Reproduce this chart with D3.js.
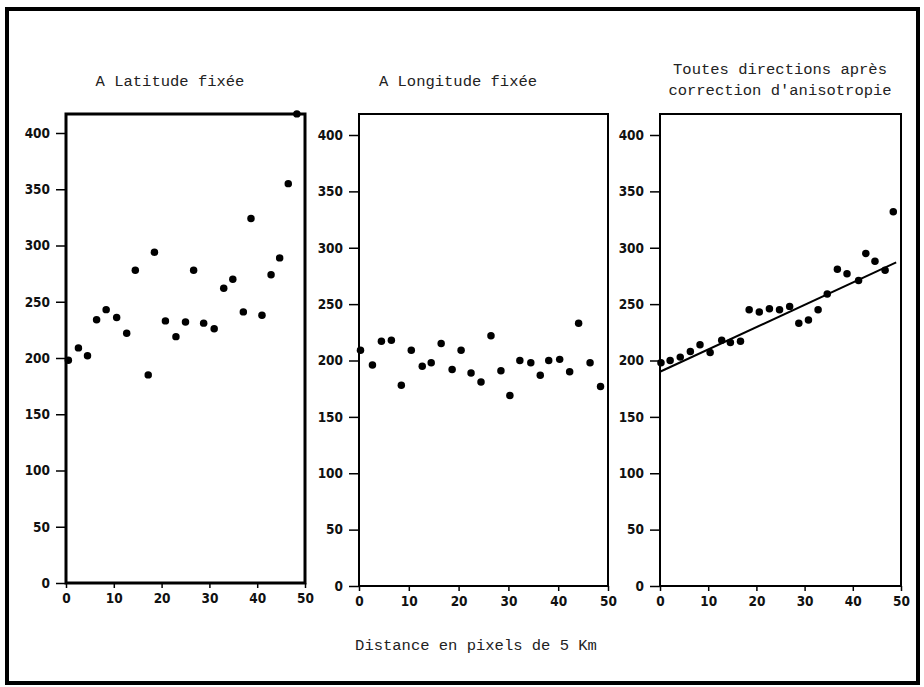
<!DOCTYPE html>
<html>
<head>
<meta charset="utf-8">
<script src="https://cdn.jsdelivr.net/npm/d3@7"></script>
<style>
  html, body { margin: 0; padding: 0; background: #fff; }
  svg { display: block; }
  .title, .xlabel { font-family: "Liberation Mono", "DejaVu Sans Mono", monospace; font-size: 15.5px; fill: #222; }
  .tick text { font-family: "DejaVu Sans Condensed", "DejaVu Sans", sans-serif; font-stretch: condensed; font-size: 13.5px; font-weight: bold; fill: #111; }
</style>
</head>
<body>
<svg id="chart" width="924" height="687"></svg>
<script>
// ---- Data ----
const xTicks = [0, 10, 20, 30, 40, 50];
const yTicks = [0, 50, 100, 150, 200, 250, 300, 350, 400];

const titleLat = ["A Latitude fixée"];
const titleLon = ["A Longitude fixée"];
const titleAll = ["Toutes directions après", "correction d'anisotropie"];
const xAxisTitle = "Distance en pixels de 5 Km";

// Panel 1 : A Latitude fixée
const latX = [0.5, 2.6, 4.5, 6.4, 8.4, 10.6, 12.7, 14.5, 17.2, 18.5, 20.8, 23.0, 25.0, 26.7, 28.8, 31.0, 33.0, 34.9, 37.1, 38.7, 41.0, 42.9, 44.7, 46.5, 48.3];
const latY = [198, 209, 202, 234, 243, 236, 222, 278, 185, 294, 233, 219, 232, 278, 231, 226, 262, 270, 241, 324, 238, 274, 289, 355, 417];

// Panel 2 : A Longitude fixée
const lonX = [0.3, 2.7, 4.5, 6.5, 8.5, 10.5, 12.7, 14.5, 16.5, 18.7, 20.5, 22.5, 24.5, 26.5, 28.5, 30.3, 32.3, 34.5, 36.4, 38.1, 40.3, 42.3, 44.1, 46.4, 48.5];
const lonY = [209, 196, 217, 218, 178, 209, 195, 198, 215, 192, 209, 189, 181, 222, 191, 169, 200, 198, 187, 200, 201, 190, 233, 198, 177];

// Panel 3 : Toutes directions après correction d'anisotropie
const allX = [0.2, 2.1, 4.2, 6.3, 8.3, 10.4, 12.8, 14.6, 16.7, 18.5, 20.6, 22.7, 24.8, 26.9, 28.8, 30.8, 32.8, 34.7, 36.8, 38.8, 41.2, 42.7, 44.6, 46.7, 48.4];
const allY = [198, 200, 203, 208, 214, 207, 218, 216, 217, 245, 243, 246, 245, 248, 233, 236, 245, 259, 281, 277, 271, 295, 288, 280, 332];

// Regression line in panel 3
const fitX = [0, 49];
const fitY = [190, 287];

// ---- Layout ----
const svg = d3.select("#chart");

// outer frame
svg.append("rect")
  .attr("x", 7).attr("y", 9).attr("width", 911).attr("height", 674)
  .attr("fill", "none").attr("stroke", "#000").attr("stroke-width", 4);

const panels = [
  { title: titleLat, xs: latX, ys: latY, left: 66, right: 305, bottom: 583, top400: 133, frameTop: 114, sw: 3, titleX: 170, titleY: [86] },
  { title: titleLon, xs: lonX, ys: lonY, left: 359, right: 608, bottom: 586, top400: 135, frameTop: 114, sw: 2, titleX: 458, titleY: [86] },
  { title: titleAll, xs: allX, ys: allY, left: 660, right: 901, bottom: 586, top400: 135, frameTop: 114, sw: 2, titleX: 780, titleY: [74, 95], fit: true }
];

panels.forEach(p => {
  const x = d3.scaleLinear().domain([0, 50]).range([p.left, p.right]);
  const y = d3.scaleLinear().domain([0, 400]).range([p.bottom, p.top400]);
  const g = svg.append("g");

  // frame
  g.append("rect")
    .attr("x", x(0)).attr("y", p.frameTop)
    .attr("width", x(50) - x(0)).attr("height", y(0) - p.frameTop)
    .attr("fill", "none").attr("stroke", "#000").attr("stroke-width", p.sw);

  // y axis
  const ya = g.append("g").attr("transform", `translate(${x(0)},0)`)
    .call(d3.axisLeft(y).tickValues(yTicks).tickSize(10).tickPadding(6).tickFormat(d3.format("d")));
  ya.select(".domain").remove();
  ya.selectAll(".tick line").attr("stroke", "#000").attr("stroke-width", 1.5);

  // x axis
  const xa = g.append("g").attr("transform", `translate(0,${y(0)})`)
    .call(d3.axisBottom(x).tickValues(xTicks).tickSize(5).tickPadding(5).tickFormat(d3.format("d")));
  xa.select(".domain").remove();
  xa.selectAll(".tick line").attr("stroke", "#000").attr("stroke-width", 1.5);

  // title
  p.title.forEach((t, i) => {
    g.append("text").attr("class", "title")
      .attr("x", p.titleX).attr("y", p.titleY[i])
      .attr("text-anchor", "middle").text(t);
  });

  // regression line
  if (p.fit) {
    const line = d3.line().x((d, i) => x(fitX[i])).y((d, i) => y(fitY[i]));
    g.append("path").datum(fitX).attr("d", line)
      .attr("fill", "none").attr("stroke", "#000").attr("stroke-width", 2);
  }

  // points
  g.selectAll("path.pt").data(p.xs.map((v, i) => [v, p.ys[i]]))
    .join("path").attr("class", "pt")
    .attr("transform", d => `translate(${x(d[0])},${y(d[1])})`)
    .attr("d", d3.symbol().type(d3.symbolCircle).size(44))
    .attr("fill", "#000");
});

// x axis title
svg.append("text").attr("class", "xlabel")
  .attr("x", 476).attr("y", 650).attr("text-anchor", "middle").text(xAxisTitle);
</script>
</body>
</html>
